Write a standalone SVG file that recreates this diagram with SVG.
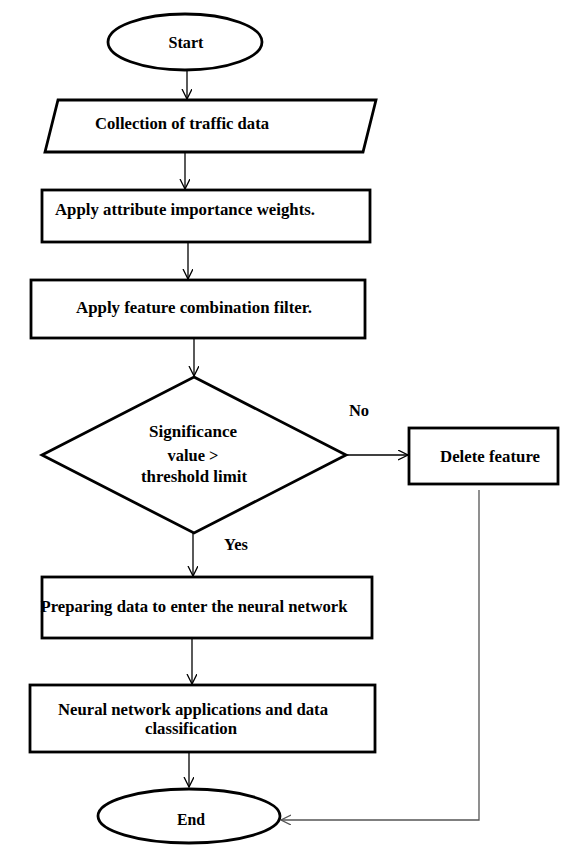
<svg xmlns="http://www.w3.org/2000/svg" width="562" height="845" viewBox="0 0 562 845">
<style>
.shape{fill:#fff;stroke:#000;stroke-width:2.8}
.conn{fill:none;stroke:#000;stroke-width:1.3}
.gray{stroke:#555}
text{font-family:"Liberation Serif","Times New Roman",serif;font-weight:bold;font-size:16.5px;fill:#000;text-anchor:middle}
</style>
<defs>
<marker id="arr" markerWidth="12" markerHeight="12" refX="10" refY="5" orient="auto" markerUnits="userSpaceOnUse">
<path d="M0,0 L10,5 L0,10" fill="none" stroke="#000" stroke-width="1.3"/>
</marker>
<marker id="arrg" markerWidth="12" markerHeight="12" refX="10" refY="5" orient="auto" markerUnits="userSpaceOnUse">
<path d="M0,0 L10,5 L0,10" fill="none" stroke="#555" stroke-width="1.3"/>
</marker>
</defs>
<g id="connectors">
<line class="conn" x1="187" y1="70" x2="187" y2="99" marker-end="url(#arr)"/>
<line class="conn" x1="185" y1="152" x2="185" y2="189" marker-end="url(#arr)"/>
<line class="conn" x1="188" y1="242" x2="188" y2="279" marker-end="url(#arr)"/>
<line class="conn" x1="194" y1="338" x2="194" y2="376" marker-end="url(#arr)"/>
<line class="conn" x1="346" y1="455" x2="408" y2="455" marker-end="url(#arr)"/>
<line class="conn" x1="193" y1="533" x2="193" y2="576" marker-end="url(#arr)"/>
<line class="conn" x1="192" y1="638" x2="192" y2="684" marker-end="url(#arr)"/>
<line class="conn" x1="189" y1="752" x2="189" y2="787" marker-end="url(#arr)"/>
<polyline class="conn gray" points="479,490 479,820 281,820" marker-end="url(#arrg)"/>
<text x="359" y="416">No</text>
<text x="236" y="550">Yes</text>
</g>
<g id="start">
<ellipse class="shape" cx="185" cy="42" rx="77" ry="28"/>
<text x="186" y="48" textLength="35" lengthAdjust="spacingAndGlyphs">Start</text>
</g>
<g id="collect">
<polygon class="shape" points="58,100 376,100 363,152 45,152"/>
<text x="182" y="129" textLength="174" lengthAdjust="spacingAndGlyphs">Collection of traffic data</text>
</g>
<g id="weights">
<rect class="shape" x="42" y="190" width="328" height="52"/>
<text x="185" y="215" textLength="260" lengthAdjust="spacingAndGlyphs">Apply attribute importance weights.</text>
</g>
<g id="filter">
<rect class="shape" x="31" y="280" width="334" height="58"/>
<text x="194" y="313" textLength="236" lengthAdjust="spacingAndGlyphs">Apply feature combination filter.</text>
</g>
<g id="decision">
<polygon class="shape" points="194,377 346,455 194,533 42,455"/>
<text x="193" y="437" textLength="88" lengthAdjust="spacingAndGlyphs">Significance</text>
<text x="193" y="461" textLength="51" lengthAdjust="spacingAndGlyphs">value &gt;</text>
<text x="194" y="482" textLength="106" lengthAdjust="spacingAndGlyphs">threshold limit</text>
</g>
<g id="delete">
<rect class="shape" x="409" y="428" width="149" height="56"/>
<text x="490" y="462" textLength="100" lengthAdjust="spacingAndGlyphs">Delete feature</text>
</g>
<g id="prepare">
<rect class="shape" x="42" y="577" width="330" height="61"/>
<text x="194" y="612" textLength="307" lengthAdjust="spacingAndGlyphs">Preparing data to enter the neural network</text>
</g>
<g id="neural">
<rect class="shape" x="30" y="685" width="345" height="67"/>
<text x="193" y="715" textLength="270" lengthAdjust="spacingAndGlyphs">Neural network applications and data</text>
<text x="191" y="734" textLength="92" lengthAdjust="spacingAndGlyphs">classification</text>
</g>
<g id="end">
<ellipse class="shape" cx="189" cy="816" rx="91" ry="27"/>
<text x="191" y="825" textLength="28" lengthAdjust="spacingAndGlyphs">End</text>
</g>
</svg>
